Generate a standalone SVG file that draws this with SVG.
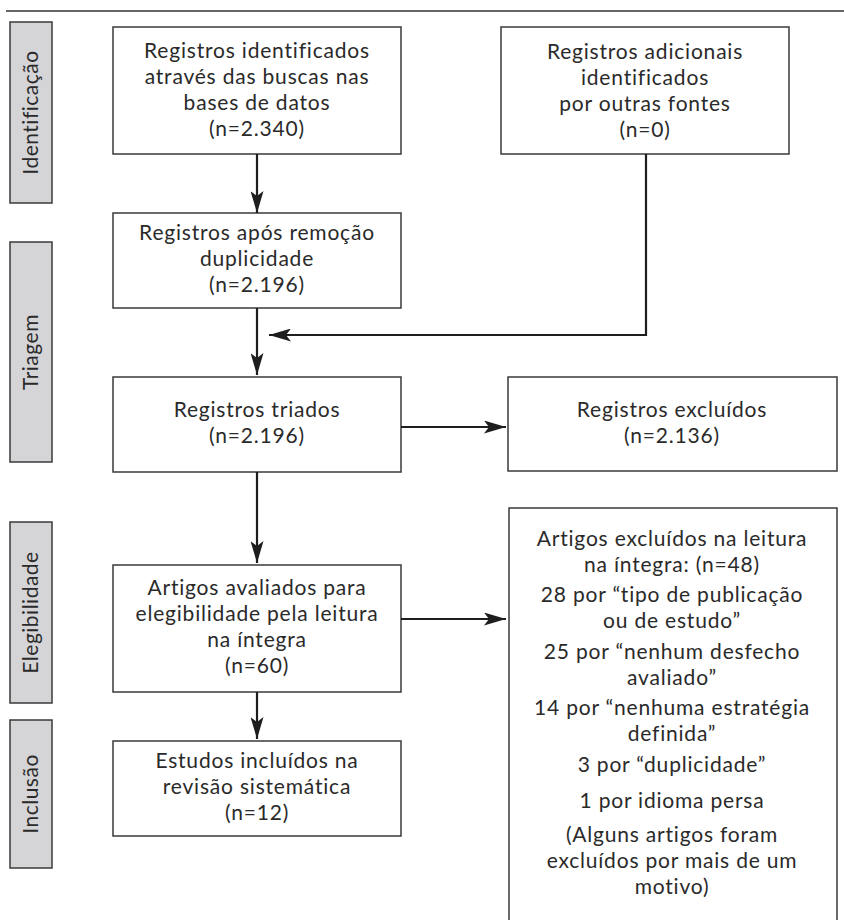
<svg xmlns="http://www.w3.org/2000/svg" width="844" height="920" viewBox="0 0 844 920">
<style>
  .box { fill: #ffffff; stroke: #3a3a3a; stroke-width: 1.5; }
  .side { fill: #d5d5d7; stroke: #3a3a3a; stroke-width: 1.5; }
  .t { font-family: Lato, "Open Sans", sans-serif; font-size: 21px; letter-spacing: 0.8px; fill: #2a2a2a; text-anchor: middle; }
  .s { font-family: Lato, "Open Sans", sans-serif; font-size: 21px; letter-spacing: 0.5px; fill: #2a2a2a; text-anchor: middle; }
  .c { fill: none; stroke: #1e1e1e; stroke-width: 2.2; }
</style>
<defs>
  <marker id="ah" viewBox="0 0 22 13" refX="22" refY="6.5" markerWidth="22" markerHeight="13" markerUnits="userSpaceOnUse" orient="auto">
    <path d="M0,0 L22,6.5 L0,13 L5,6.5 z" fill="#1e1e1e"/>
  </marker>
</defs>
<rect width="844" height="920" fill="#ffffff"/>
<line x1="6" y1="11" x2="844" y2="11" stroke="#333" stroke-width="1.5"/>

<g id="side-identificacao">
  <rect class="side" x="10" y="22" width="42" height="181"/>
  <text class="s" transform="translate(38,112.5) rotate(-90)">Identificação</text>
</g>
<g id="side-triagem">
  <rect class="side" x="10" y="242" width="42" height="220"/>
  <text class="s" transform="translate(38,352) rotate(-90)">Triagem</text>
</g>
<g id="side-elegibilidade">
  <rect class="side" x="10" y="522" width="42" height="181"/>
  <text class="s" transform="translate(38,612.5) rotate(-90)">Elegibilidade</text>
</g>
<g id="side-inclusao">
  <rect class="side" x="10" y="720" width="42" height="148"/>
  <text class="s" transform="translate(38,794) rotate(-90)">Inclusão</text>
</g>

<g id="n-identificados">
  <rect class="box" x="113" y="27" width="288" height="127"/>
  <text class="t" x="257" y="58">Registros identificados</text>
  <text class="t" x="257" y="84">através das buscas nas</text>
  <text class="t" x="257" y="110">bases de datos</text>
  <text class="t" x="257" y="136">(n=2.340)</text>
</g>
<g id="n-adicionais">
  <rect class="box" x="501" y="27" width="288" height="127"/>
  <text class="t" x="645" y="59">Registros adicionais</text>
  <text class="t" x="645" y="85">identificados</text>
  <text class="t" x="645" y="111">por outras fontes</text>
  <text class="t" x="645" y="137">(n=0)</text>
</g>
<g id="n-duplicidade">
  <rect class="box" x="113" y="213" width="288" height="95"/>
  <text class="t" x="257" y="240">Registros após remoção</text>
  <text class="t" x="257" y="266">duplicidade</text>
  <text class="t" x="257" y="292">(n=2.196)</text>
</g>
<g id="n-triados">
  <rect class="box" x="113" y="377" width="288" height="95"/>
  <text class="t" x="257" y="417">Registros triados</text>
  <text class="t" x="257" y="443">(n=2.196)</text>
</g>
<g id="n-excluidos">
  <rect class="box" x="508" y="377" width="329" height="94"/>
  <text class="t" x="672" y="417">Registros excluídos</text>
  <text class="t" x="672" y="443">(n=2.136)</text>
</g>
<g id="n-avaliados">
  <rect class="box" x="113" y="565" width="288" height="127"/>
  <text class="t" x="257" y="595">Artigos avaliados para</text>
  <text class="t" x="257" y="621">elegibilidade pela leitura</text>
  <text class="t" x="257" y="647">na íntegra</text>
  <text class="t" x="257" y="673">(n=60)</text>
</g>
<g id="n-incluidos">
  <rect class="box" x="113" y="741" width="288" height="95"/>
  <text class="t" x="257" y="768">Estudos incluídos na</text>
  <text class="t" x="257" y="794">revisão sistemática</text>
  <text class="t" x="257" y="820">(n=12)</text>
</g>
<g id="n-artigos-excluidos">
  <rect class="box" x="509" y="508" width="328" height="430"/>
  <text class="t" x="672" y="546">Artigos excluídos na leitura</text>
  <text class="t" x="672" y="571.5">na íntegra: (n=48)</text>
  <text class="t" x="672" y="602">28 por “tipo de publicação</text>
  <text class="t" x="672" y="627.5">ou de estudo”</text>
  <text class="t" x="672" y="659">25 por “nenhum desfecho</text>
  <text class="t" x="672" y="684.5">avaliado”</text>
  <text class="t" x="672" y="715">14 por “nenhuma estratégia</text>
  <text class="t" x="672" y="740.5">definida”</text>
  <text class="t" x="672" y="772">3 por “duplicidade”</text>
  <text class="t" x="672" y="808">1 por idioma persa</text>
  <text class="t" x="672" y="842">(Alguns artigos foram</text>
  <text class="t" x="672" y="868">excluídos por mais de um</text>
  <text class="t" x="672" y="894">motivo)</text>
</g>

<g id="connectors">
  <line class="c" x1="257" y1="154" x2="257" y2="213" marker-end="url(#ah)"/>
  <line class="c" x1="257" y1="308" x2="257" y2="375" marker-end="url(#ah)"/>
  <polyline class="c" points="646,154 646,335 269,335" marker-end="url(#ah)"/>
  <line class="c" x1="401" y1="427" x2="506" y2="427" marker-end="url(#ah)"/>
  <line class="c" x1="257" y1="472" x2="257" y2="563" marker-end="url(#ah)"/>
  <line class="c" x1="401" y1="619" x2="506" y2="619" marker-end="url(#ah)"/>
  <line class="c" x1="257" y1="692" x2="257" y2="739" marker-end="url(#ah)"/>
</g>
</svg>
